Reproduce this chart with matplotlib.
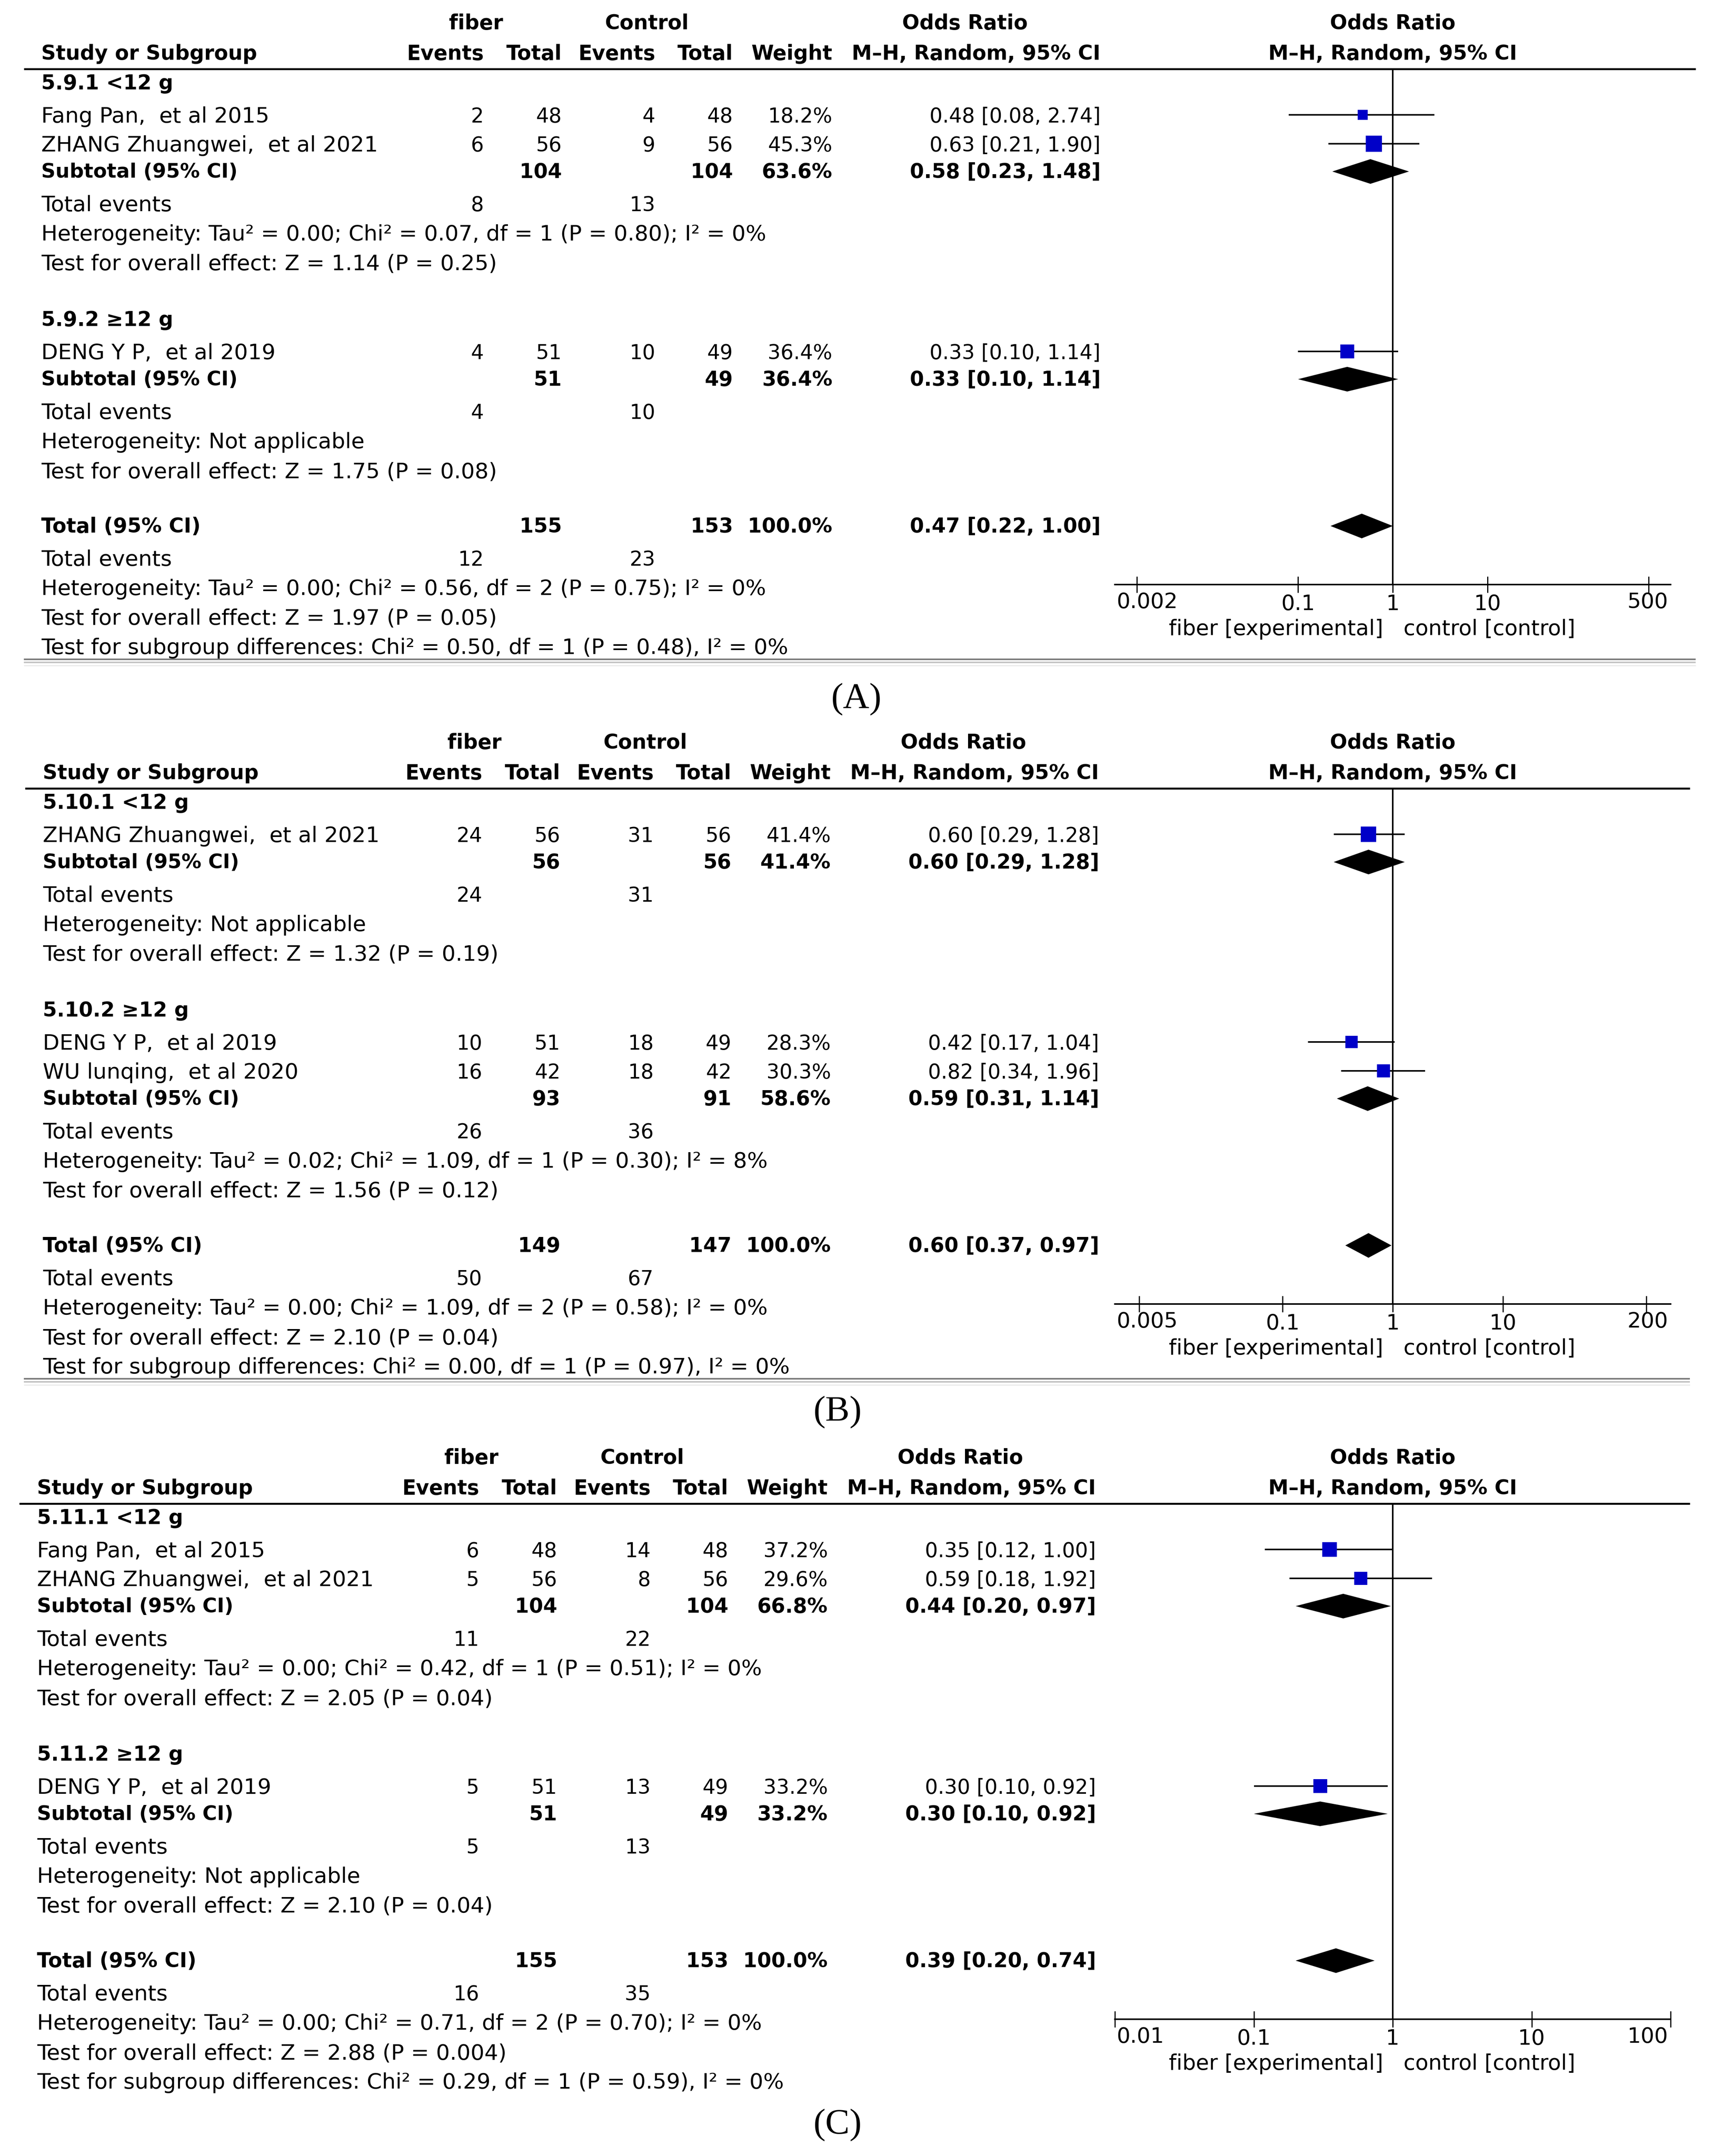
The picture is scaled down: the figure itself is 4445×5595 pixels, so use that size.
import matplotlib
matplotlib.use("Agg")
import matplotlib.pyplot as plt
from matplotlib.ticker import NullLocator
import numpy as np

W, H = 4445, 5595
DPI = 100

# ------------------------------------------------------------------ data
# Panel A
A_groups = ["5.9.1 <12 g", "5.9.2 \u226512 g"]
A_study = ["Fang Pan,  et al 2015", "ZHANG Zhuangwei,  et al 2021", "DENG Y P,  et al 2019"]
A_study_group = [0, 0, 1]
A_exp_events = [2, 6, 4]
A_exp_total = [48, 56, 51]
A_ctl_events = [4, 9, 10]
A_ctl_total = [48, 56, 49]
A_weight = [18.2, 45.3, 36.4]
A_or = [0.48, 0.63, 0.33]
A_lo = [0.08, 0.21, 0.10]
A_hi = [2.74, 1.90, 1.14]
A_sub_weight = [63.6, 36.4]
A_sub_or = [0.58, 0.33]
A_sub_lo = [0.23, 0.10]
A_sub_hi = [1.48, 1.14]
A_sub_het = ["Heterogeneity: Tau\u00b2 = 0.00; Chi\u00b2 = 0.07, df = 1 (P = 0.80); I\u00b2 = 0%",
             "Heterogeneity: Not applicable"]
A_sub_test = ["Test for overall effect: Z = 1.14 (P = 0.25)",
              "Test for overall effect: Z = 1.75 (P = 0.08)"]
A_total = [0.47, 0.22, 1.00]
A_total_het = "Heterogeneity: Tau\u00b2 = 0.00; Chi\u00b2 = 0.56, df = 2 (P = 0.75); I\u00b2 = 0%"
A_total_test = "Test for overall effect: Z = 1.97 (P = 0.05)"
A_subgroup_test = "Test for subgroup differences: Chi\u00b2 = 0.50, df = 1 (P = 0.48), I\u00b2 = 0%"
A_ticks = [0.002, 0.1, 1, 10, 500]
A_tick_labels = ["0.002", "0.1", "1", "10", "500"]
A_xlim = (0.00117, 851)

# Panel B
B_groups = ["5.10.1 <12 g", "5.10.2 \u226512 g"]
B_study = ["ZHANG Zhuangwei,  et al 2021", "DENG Y P,  et al 2019", "WU lunqing,  et al 2020"]
B_study_group = [0, 1, 1]
B_exp_events = [24, 10, 16]
B_exp_total = [56, 51, 42]
B_ctl_events = [31, 18, 18]
B_ctl_total = [56, 49, 42]
B_weight = [41.4, 28.3, 30.3]
B_or = [0.60, 0.42, 0.82]
B_lo = [0.29, 0.17, 0.34]
B_hi = [1.28, 1.04, 1.96]
B_sub_weight = [41.4, 58.6]
B_sub_or = [0.60, 0.59]
B_sub_lo = [0.29, 0.31]
B_sub_hi = [1.28, 1.14]
B_sub_het = ["Heterogeneity: Not applicable",
             "Heterogeneity: Tau\u00b2 = 0.02; Chi\u00b2 = 1.09, df = 1 (P = 0.30); I\u00b2 = 8%"]
B_sub_test = ["Test for overall effect: Z = 1.32 (P = 0.19)",
              "Test for overall effect: Z = 1.56 (P = 0.12)"]
B_total = [0.60, 0.37, 0.97]
B_total_het = "Heterogeneity: Tau\u00b2 = 0.00; Chi\u00b2 = 1.09, df = 2 (P = 0.58); I\u00b2 = 0%"
B_total_test = "Test for overall effect: Z = 2.10 (P = 0.04)"
B_subgroup_test = "Test for subgroup differences: Chi\u00b2 = 0.00, df = 1 (P = 0.97), I\u00b2 = 0%"
B_ticks = [0.005, 0.1, 1, 10, 200]
B_tick_labels = ["0.005", "0.1", "1", "10", "200"]
B_xlim = (0.0030, 331)

# Panel C
C_groups = ["5.11.1 <12 g", "5.11.2 \u226512 g"]
C_study = ["Fang Pan,  et al 2015", "ZHANG Zhuangwei,  et al 2021", "DENG Y P,  et al 2019"]
C_study_group = [0, 0, 1]
C_exp_events = [6, 5, 5]
C_exp_total = [48, 56, 51]
C_ctl_events = [14, 8, 13]
C_ctl_total = [48, 56, 49]
C_weight = [37.2, 29.6, 33.2]
C_or = [0.35, 0.59, 0.30]
C_lo = [0.12, 0.18, 0.10]
C_hi = [1.00, 1.92, 0.92]
C_sub_weight = [66.8, 33.2]
C_sub_or = [0.44, 0.30]
C_sub_lo = [0.20, 0.10]
C_sub_hi = [0.97, 0.92]
C_sub_het = ["Heterogeneity: Tau\u00b2 = 0.00; Chi\u00b2 = 0.42, df = 1 (P = 0.51); I\u00b2 = 0%",
             "Heterogeneity: Not applicable"]
C_sub_test = ["Test for overall effect: Z = 2.05 (P = 0.04)",
              "Test for overall effect: Z = 2.10 (P = 0.04)"]
C_total = [0.39, 0.20, 0.74]
C_total_het = "Heterogeneity: Tau\u00b2 = 0.00; Chi\u00b2 = 0.71, df = 2 (P = 0.70); I\u00b2 = 0%"
C_total_test = "Test for overall effect: Z = 2.88 (P = 0.004)"
C_subgroup_test = "Test for subgroup differences: Chi\u00b2 = 0.29, df = 1 (P = 0.59), I\u00b2 = 0%"
C_ticks = [0.01, 0.1, 1, 10, 100]
C_tick_labels = ["0.01", "0.1", "1", "10", "100"]
C_xlim = (0.01, 100)

# ------------------------------------------------------------------ figure
fig = plt.figure(figsize=(W / DPI, H / DPI), dpi=DPI)
ov = fig.add_axes([0, 0, 1, 1])
ov.set_xlim(0, W)
ov.set_ylim(H, 0)
ov.axis("off")

FS = 38          # numbers / bold
FSL = 40.5       # regular label text
FST = 40         # forest axis text
FAM = ["DejaVu Sans"]
BLUE = "#0000C8"
FX0, FX1 = 2893, 4335          # forest axes horizontal extent (px)
FXC = (FX0 + FX1) / 2          # position of OR = 1


def txt(x, y, s, ha="left", bold=False, size=FS, family=None):
    ov.text(x, y, s, ha=ha, va="center", fontsize=size,
            fontweight="bold" if bold else "normal",
            family=family or FAM, color="black")


def draw_panel(d, line_y, dx, label_x, line_x0, line_x1, letter, letter_x, letter_y, sep):
    cx = dict(ev=1255 + dx, tot=1458 + dx, cev=1700 + dx, ctot=1902 + dx,
              wt=2160 + dx, orr=2856 + dx)
    # headers
    h1, h2 = line_y - 118, line_y - 39
    txt(1235 + dx, h1, "fiber", ha="center", bold=True)
    txt(1678 + dx, h1, "Control", ha="center", bold=True)
    txt(2504 + dx, h1, "Odds Ratio", ha="center", bold=True)
    txt(FXC, h1, "Odds Ratio", ha="center", bold=True)
    txt(label_x, h2, "Study or Subgroup", bold=True)
    txt(cx["ev"], h2, "Events", ha="right", bold=True)
    txt(cx["tot"], h2, "Total", ha="right", bold=True)
    txt(cx["cev"], h2, "Events", ha="right", bold=True)
    txt(cx["ctot"], h2, "Total", ha="right", bold=True)
    txt(cx["wt"], h2, "Weight", ha="right", bold=True)
    txt(cx["orr"], h2, "M\u2013H, Random, 95% CI", ha="right", bold=True)
    txt(FXC, h2, "M\u2013H, Random, 95% CI", ha="center", bold=True)
    ov.plot([line_x0, line_x1], [line_y, line_y], color="black", lw=3.6,
            solid_capstyle="butt")

    axis_y = line_y + 1338
    fax = fig.add_axes([FX0 / W, 1 - axis_y / H, (FX1 - FX0) / W, (axis_y - line_y) / H])
    fax.set_xscale("log")
    fax.set_xlim(*d["xlim"])
    fax.set_ylim(axis_y, line_y)
    fax.patch.set_alpha(0)
    for s in ["top", "left", "right"]:
        fax.spines[s].set_visible(False)
    fax.spines["bottom"].set_linewidth(2.9)
    fax.set_yticks([])
    fax.set_xticks(d["ticks"])
    labs = list(d["tick_labels"])
    fax.set_xticklabels([""] + labs[1:-1] + [""])
    fax.xaxis.set_minor_locator(NullLocator())
    fax.tick_params(axis="x", direction="inout", length=30, width=2.2,
                    labelsize=FST, pad=2)
    for lab in fax.get_xticklabels():
        lab.set_family(FAM)
    fax.axvline(1, color="black", lw=2.9, zorder=1)
    # end tick labels are aligned with the ends of the axis line
    txt(FX0 + 4, axis_y + 46, labs[0], ha="left", size=FST)
    txt(FX1 - 6, axis_y + 46, labs[-1], ha="right", size=FST)

    y = line_y
    n = len(d["study"])
    for g in range(2):
        y += 38 if g == 0 else 145
        txt(label_x, y, d["groups"][g], bold=True)
        idx = [i for i in range(n) if d["study_group"][i] == g]
        for k, i in enumerate(idx):
            y += 86 if k == 0 else 75
            txt(label_x, y, d["study"][i], size=FSL)
            txt(cx["ev"], y, str(d["exp_events"][i]), ha="right")
            txt(cx["tot"], y, str(d["exp_total"][i]), ha="right")
            txt(cx["cev"], y, str(d["ctl_events"][i]), ha="right")
            txt(cx["ctot"], y, str(d["ctl_total"][i]), ha="right")
            txt(cx["wt"], y, "%.1f%%" % d["weight"][i], ha="right")
            txt(cx["orr"], y, "%.2f [%.2f, %.2f]" % (d["or"][i], d["lo"][i], d["hi"][i]), ha="right")
            ym = y - 5
            fax.hlines(ym, d["lo"][i], d["hi"][i], color="black", lw=2.9, zorder=2)
            side_pt = 6.1 * np.sqrt(d["weight"][i]) * 72 / DPI
            fax.scatter([d["or"][i]], [ym], s=side_pt ** 2, marker="s", color=BLUE,
                        linewidths=0, zorder=3)
        y += 69
        txt(label_x, y, "Subtotal (95% CI)", bold=True, size=37)
        txt(cx["tot"], y, str(sum(d["exp_total"][i] for i in idx)), ha="right", bold=True)
        txt(cx["ctot"], y, str(sum(d["ctl_total"][i] for i in idx)), ha="right", bold=True)
        txt(cx["wt"], y, "%.1f%%" % d["sub_weight"][g], ha="right", bold=True)
        txt(cx["orr"], y, "%.2f [%.2f, %.2f]" % (d["sub_or"][g], d["sub_lo"][g], d["sub_hi"][g]),
            ha="right", bold=True)
        fax.fill([d["sub_lo"][g], d["sub_or"][g], d["sub_hi"][g], d["sub_or"][g]],
                 [y - 2, y - 34, y - 2, y + 30], color="black", lw=0, zorder=3)
        y += 86
        txt(label_x, y, "Total events", size=FSL)
        txt(cx["ev"], y, str(sum(d["exp_events"][i] for i in idx)), ha="right")
        txt(cx["cev"], y, str(sum(d["ctl_events"][i] for i in idx)), ha="right")
        y += 76
        txt(label_x, y, d["sub_het"][g], size=FSL)
        y += 77
        txt(label_x, y, d["sub_test"][g], size=FSL)

    y += 142
    txt(label_x, y, "Total (95% CI)", bold=True)
    txt(cx["tot"], y, str(sum(d["exp_total"])), ha="right", bold=True)
    txt(cx["ctot"], y, str(sum(d["ctl_total"])), ha="right", bold=True)
    txt(cx["wt"], y, "100.0%", ha="right", bold=True)
    tor, tlo, thi = d["total"]
    txt(cx["orr"], y, "%.2f [%.2f, %.2f]" % (tor, tlo, thi), ha="right", bold=True)
    fax.fill([tlo, tor, thi, tor], [y - 2, y - 34, y - 2, y + 30], color="black", lw=0, zorder=3)
    y += 86
    txt(label_x, y, "Total events", size=FSL)
    txt(cx["ev"], y, str(sum(d["exp_events"])), ha="right")
    txt(cx["cev"], y, str(sum(d["ctl_events"])), ha="right")
    y += 76
    txt(label_x, y, d["total_het"], size=FSL)
    y += 77
    txt(label_x, y, d["total_test"], size=FSL)
    y += 76
    txt(label_x, y, d["subgroup_test"], size=FSL)

    # axis caption
    txt(FXC - 25, axis_y + 116, "fiber [experimental]", ha="right", size=FST)
    txt(FXC + 28, axis_y + 116, "control [control]", ha="left", size=FST)

    if sep:
        sy = line_y + 1532
        ov.plot([62, line_x1], [sy, sy], color="#7a7a7a", lw=3.0, solid_capstyle="butt")
        ov.plot([62, line_x1], [sy + 8, sy + 8], color="#c4c4c4", lw=3.0, solid_capstyle="butt")
        ov.plot([62, line_x1], [sy + 16, sy + 16], color="#ececec", lw=2.5, solid_capstyle="butt")

    txt(letter_x, letter_y, letter, ha="center", size=68, family=["Liberation Serif"])


def pack(prefix):
    g = globals()
    keys = ["groups", "study", "study_group", "exp_events", "exp_total", "ctl_events",
            "ctl_total", "weight", "or", "lo", "hi", "sub_weight", "sub_or", "sub_lo",
            "sub_hi", "sub_het", "sub_test", "total", "total_het", "total_test",
            "subgroup_test", "ticks", "tick_labels", "xlim"]
    return {k: g[prefix + "_" + k] for k in keys}


draw_panel(pack("A"), line_y=179, dx=0, label_x=107, line_x0=62, line_x1=4400,
           letter="(A)", letter_x=2222, letter_y=1815, sep=True)
draw_panel(pack("B"), line_y=2046, dx=-4, label_x=111, line_x0=65, line_x1=4385,
           letter="(B)", letter_x=2174, letter_y=3665, sep=True)
draw_panel(pack("C"), line_y=3902, dx=-12, label_x=96, line_x0=50, line_x1=4385,
           letter="(C)", letter_x=2174, letter_y=5515, sep=False)

fig.savefig("out.png", dpi=DPI, facecolor="white")
